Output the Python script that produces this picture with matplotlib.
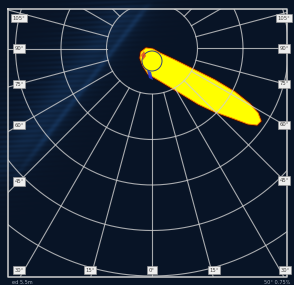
import matplotlib
matplotlib.use("Agg")
import matplotlib.pyplot as plt
import numpy as np
from matplotlib.patches import Polygon, Circle, Rectangle

# grid definition (image pixel units)
ring_zenith = [15, 30, 45, 60, 75, 90]
spoke_azimuth = [0, 15, 30, 45, 60, 75, 90, 105, 120, 135, 150, 165,
                 180, 195, 210, 225, 240, 255, 270, 285, 300, 315, 330, 345]
left_labels = [105, 90, 75, 60, 45]
bottom_labels = [30, 15, 0, 15, 30]
bottom_signs = [-1, -1, 0, 1, 1]
right_labels = [45, 60, 75, 90, 105]

# bright spot outline
blob_x = [141, 146, 153, 160, 175, 195, 215, 235, 250, 258, 261, 257, 248,
          232, 215, 198, 180, 165, 155, 148, 143, 140]
blob_y = [52, 48, 49, 53, 60, 70, 80, 92, 104, 113, 121, 125, 124,
          118, 112, 104, 93, 84, 78, 74, 66, 58]

footer_left = "ed 5.5m"
footer_right = "50° 0.75%"

W, H = 294, 285
cx, cy = 152, 48.5
px_per_deg = 45.5 / 15
x0, x1, y0, y1 = 8, 287, 9, 277

fig = plt.figure(figsize=(2.94, 2.85), dpi=100)
ax = fig.add_axes([0, 0, 1, 1])
ax.set_xlim(0, W)
ax.set_ylim(H, 0)
ax.axis("off")

# dark sky background with a faint diagonal streak
yy, xx = np.mgrid[0:H, 0:W].astype(float)
base = np.array([0.035, 0.08, 0.15])
d = ((xx - 43) * 130 + (yy - 140) * 100) / np.hypot(130, 100)
fade = np.clip((190 - yy) / 50, 0, 1) * np.clip(yy / 15, 0, 1)
streak = (np.exp(-(d / 3.0) ** 2) * 0.22 + np.exp(-((d + 12) / 16.0) ** 2) * 0.18) * fade
band = 0.6 + 0.4 * np.sin(yy * 1.3 + xx * 0.05)
glow = np.exp(-((d + 25) / 35.0) ** 2) * 0.12 * band * np.clip((230 - yy) / 60, 0, 1)
tint = np.array([0.12, 0.3, 0.5])
img = base + (streak + glow)[..., None] * tint
ax.imshow(np.clip(img, 0, 1), extent=(0, W, H, 0), origin="upper", zorder=0)

# bright spot
ax.add_patch(Polygon(np.column_stack([blob_x, blob_y]), closed=True,
                     fc="none", ec="#4a0a00", lw=1.8, zorder=2))
ax.add_patch(Polygon(np.column_stack([blob_x, blob_y]), closed=True,
                     fc="#ffff00", ec="#ff8c00", lw=0.6, zorder=3))
ax.add_patch(Circle((152, 61), 10, fc="none", ec="#34407a", lw=0.7, zorder=4))
ax.add_patch(Polygon([[141, 55], [144, 51], [146, 56], [143, 60]], closed=True,
                     fc="#e0402a", ec="none", alpha=0.8, zorder=4))
ax.add_patch(Polygon([[147, 70], [151, 72], [153, 80], [149, 78]], closed=True,
                     fc="#2a36d0", ec="none", alpha=0.9, zorder=4))

# grid clipped to the frame
frame = Rectangle((x0, y0), x1 - x0, y1 - y0, transform=ax.transData, fc="none")
gcol = "#cfcfcf"
t = np.linspace(0, 2 * np.pi, 400)
for z in ring_zenith:
    r = z * px_per_deg
    ln, = ax.plot(cx + r * np.cos(t), cy + r * np.sin(t), color=gcol, lw=0.8,
                  alpha=0.8, zorder=5)
    ln.set_clip_path(frame)
r_in = ring_zenith[0] * px_per_deg
for a in spoke_azimuth:
    ar = np.radians(a)
    dx, dy = -np.sin(ar), np.cos(ar)
    ln, = ax.plot([cx + r_in * dx, cx + 400 * dx], [cy + r_in * dy, cy + 400 * dy],
                  color=gcol, lw=0.8, alpha=0.8, zorder=5)
    ln.set_clip_path(frame)

ax.plot([x0, x1, x1, x0, x0], [y0, y0, y1, y1, y0], color=gcol, lw=1.1, zorder=6)

box = dict(boxstyle="square,pad=0.3", fc="#eeeeee", ec="#9a9a9a", lw=0.4)
kw = dict(fontsize=3.8, color="#444444", ha="center", va="center", bbox=box, zorder=7)
for a in left_labels:
    ar = np.radians(a)
    tt = (cx - 19) / np.sin(ar)
    ax.text(19, max(18, cy + tt * np.cos(ar)), f"{a}°", **kw)
for a in right_labels:
    ar = np.radians(a)
    tt = (284 - cx) / np.sin(ar)
    ax.text(284, max(18, cy + tt * np.cos(ar)), f"{a}°", **kw)
for a, s in zip(bottom_labels, bottom_signs):
    ax.text(cx + s * (y1 - cy) * np.tan(np.radians(a)) * 1.01, 270, f"{a}°", **kw)

ax.text(12, 282.5, footer_left, fontsize=3.6, color="#a4aebb", ha="left", va="center")
ax.text(290, 282.5, footer_right, fontsize=3.6, color="#a4aebb", ha="right", va="center")

fig.savefig("out.png", dpi=100)
